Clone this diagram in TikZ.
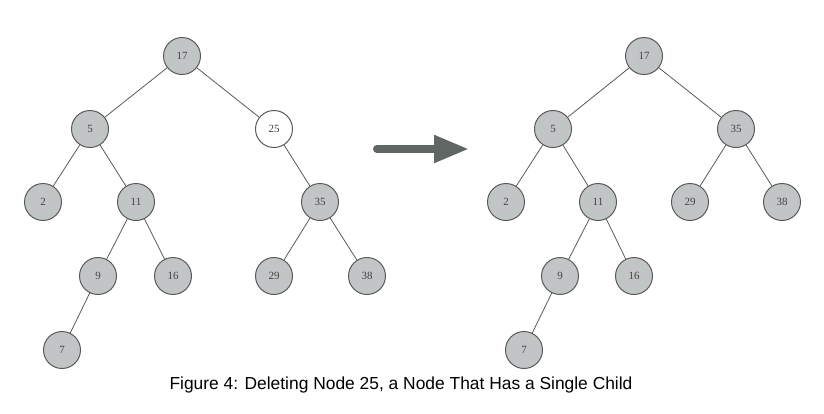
\documentclass[tikz,border=0pt]{standalone}
\usepackage{fontspec}
\setmainfont{Liberation Serif}
\newfontfamily\capfont{Liberation Sans}
\usetikzlibrary{arrows.meta}
\definecolor{nodefill}{HTML}{C2C5C5}
\definecolor{nodeline}{HTML}{5A5A5A}
\definecolor{nodetext}{HTML}{444444}
\definecolor{arrowcol}{HTML}{5F6663}
\begin{document}
\begin{tikzpicture}[x=1pt,y=-1pt,
  bst/.style={circle,draw=nodeline,line width=1pt,fill=nodefill,minimum size=37pt,inner sep=0pt,text=nodetext,font=\fontsize{11}{13}\selectfont},
  bstwhite/.style={bst,fill=white},
  edge/.style={draw=nodeline,line width=0.8pt}]
\useasboundingbox (0,0) rectangle (824,413);
% left tree
\node[bst] (a17) at (182,56) {17};
\node[bst] (a5) at (90,129) {5};
\node[bstwhite] (a25) at (274,129) {25};
\node[bst] (a2) at (43,202) {2};
\node[bst] (a11) at (136,202) {11};
\node[bst] (a35) at (320,202) {35};
\node[bst] (a9) at (98,276) {9};
\node[bst] (a16) at (173,276) {16};
\node[bst] (a29) at (274,276) {29};
\node[bst] (a38) at (367,276) {38};
\node[bst] (a7) at (62,350) {7};
\draw[edge] (a17)--(a5); \draw[edge] (a17)--(a25);
\draw[edge] (a5)--(a2); \draw[edge] (a5)--(a11);
\draw[edge] (a11)--(a9); \draw[edge] (a11)--(a16);
\draw[edge] (a9)--(a7);
\draw[edge] (a25)--(a35);
\draw[edge] (a35)--(a29); \draw[edge] (a35)--(a38);
% arrow
\coordinate (arS) at (377,149);
\coordinate (arE) at (469,149);
\draw[arrowcol,line width=8pt,line cap=round,-{Triangle[length=35pt,width=26pt]}] (arS)--(arE);
% right tree
\node[bst] (b17) at (644,56) {17};
\node[bst] (b5) at (553,129) {5};
\node[bst] (b35) at (736,129) {35};
\node[bst] (b2) at (506,202) {2};
\node[bst] (b11) at (598,202) {11};
\node[bst] (b29) at (690,202) {29};
\node[bst] (b38) at (782,202) {38};
\node[bst] (b9) at (560,276) {9};
\node[bst] (b16) at (634,276) {16};
\node[bst] (b7) at (524,350) {7};
\draw[edge] (b17)--(b5); \draw[edge] (b17)--(b35);
\draw[edge] (b5)--(b2); \draw[edge] (b5)--(b11);
\draw[edge] (b11)--(b9); \draw[edge] (b11)--(b16);
\draw[edge] (b9)--(b7);
\draw[edge] (b35)--(b29); \draw[edge] (b35)--(b38);
% caption
\node[font=\capfont\fontsize{17.4}{20}\selectfont,text=black] (cap) at (401,385) {Figure 4: Deleting Node 25, a Node That Has a Single Child};
\end{tikzpicture}
\end{document}
